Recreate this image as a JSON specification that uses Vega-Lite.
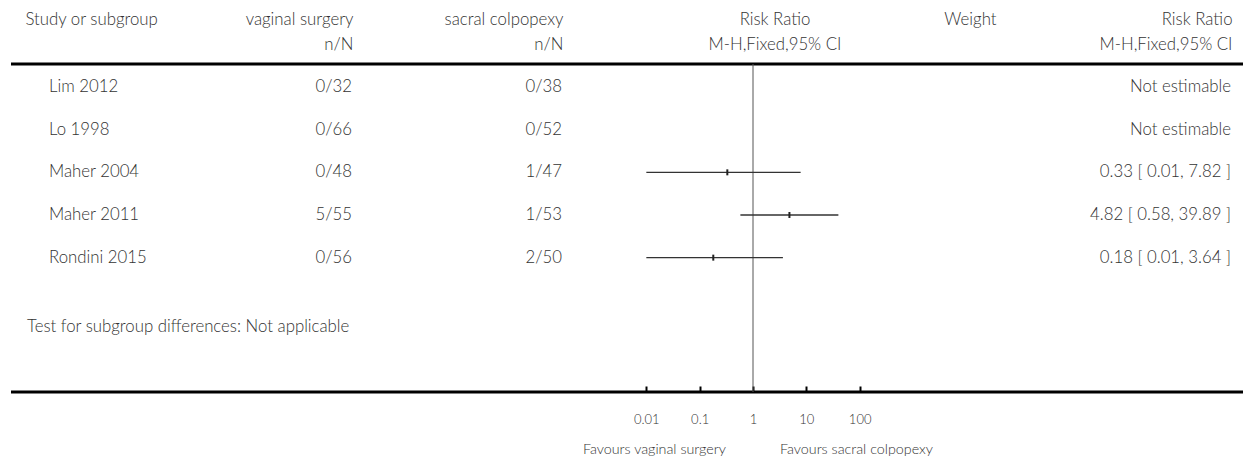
{
  "$schema": "https://vega.github.io/schema/vega-lite/v6.json",
  "padding": {"left": 9, "top": 11, "right": 0, "bottom": 0},
  "spacing": 0,
  "bounds": "flush",
  "config": {
    "view": {"stroke": null},
    "text": {"font": "Lato", "fontSize": 16.8, "fontWeight": 300, "color": "#333"},
    "title": {"font": "Lato", "fontSize": 16.8, "fontWeight": 300, "color": "#333", "lineHeight": 25, "offset": 9, "baseline": "bottom"},
    "axis": {"labelFont": "Lato", "labelFontSize": 13, "labelFontWeight": 300, "labelColor": "#333"}
  },
  "data": {"values": [
    {"study": "Lim 2012", "row": 1, "vs": "0/32", "sc": "0/38", "rr": null, "lo": null, "hi": null, "ci": "Not estimable"},
    {"study": "Lo 1998", "row": 2, "vs": "0/66", "sc": "0/52", "rr": null, "lo": null, "hi": null, "ci": "Not estimable"},
    {"study": "Maher 2004", "row": 3, "vs": "0/48", "sc": "1/47", "rr": 0.33, "lo": 0.01, "hi": 7.82, "ci": "0.33 [ 0.01, 7.82 ]"},
    {"study": "Maher 2011", "row": 4, "vs": "5/55", "sc": "1/53", "rr": 4.82, "lo": 0.58, "hi": 39.89, "ci": "4.82 [ 0.58, 39.89 ]"},
    {"study": "Rondini 2015", "row": 5, "vs": "0/56", "sc": "2/50", "rr": 0.18, "lo": 0.01, "hi": 3.64, "ci": "0.18 [ 0.01, 3.64 ]"}
  ]},
  "hconcat": [
    {
      "width": 189, "height": 328,
      "title": {"text": ["Study or subgroup", " "], "anchor": "start", "dx": 16},
      "layer": [
        {"transform": [{"aggregate": [{"op": "count", "as": "n"}]}], "mark": {"type": "rule", "strokeWidth": 3, "color": "black"},
         "encoding": {"y": {"datum": 0.46, "type": "quantitative", "scale": {"domain": [0.46, 8.15], "reverse": true, "nice": false, "zero": false}, "axis": null}}},
        {"transform": [{"aggregate": [{"op": "count", "as": "n"}]}], "mark": {"type": "rule", "strokeWidth": 3, "color": "black"},
         "encoding": {"y": {"datum": 8.15, "type": "quantitative", "axis": null}}},
        {"mark": {"type": "text", "align": "left", "dx": 38},
         "encoding": {"x": {"datum": 0, "type": "quantitative", "scale": {"domain": [0, 1]}, "axis": null},
                      "y": {"field": "row", "type": "quantitative", "axis": null}, "text": {"field": "study"}}},
        {"data": {"values": [{"note": "Test for subgroup differences: Not applicable"}]},
         "mark": {"type": "text", "align": "left", "dx": 16},
         "encoding": {"x": {"datum": 0, "type": "quantitative", "axis": null},
                      "y": {"datum": 6.62, "type": "quantitative", "axis": null}, "text": {"field": "note"}}}
      ]
    },
    {
      "width": 152, "height": 328,
      "title": {"text": ["vaginal surgery", "n/N"], "anchor": "end"},
      "layer": [
        {"transform": [{"aggregate": [{"op": "count", "as": "n"}]}], "mark": {"type": "rule", "strokeWidth": 3, "color": "black"},
         "encoding": {"y": {"datum": 0.46, "type": "quantitative", "scale": {"domain": [0.46, 8.15], "reverse": true, "nice": false, "zero": false}, "axis": null}}},
        {"transform": [{"aggregate": [{"op": "count", "as": "n"}]}], "mark": {"type": "rule", "strokeWidth": 3, "color": "black"},
         "encoding": {"y": {"datum": 8.15, "type": "quantitative", "axis": null}}},
        {"mark": {"type": "text", "align": "right"},
         "encoding": {"x": {"datum": 1, "type": "quantitative", "scale": {"domain": [0, 1]}, "axis": null},
                      "y": {"field": "row", "type": "quantitative", "axis": null}, "text": {"field": "vs"}}}
      ]
    },
    {
      "width": 241, "height": 328,
      "title": {"text": ["sacral colpopexy", "n/N"], "anchor": "end", "dx": -31},
      "layer": [
        {"transform": [{"aggregate": [{"op": "count", "as": "n"}]}], "mark": {"type": "rule", "strokeWidth": 3, "color": "black"},
         "encoding": {"y": {"datum": 0.46, "type": "quantitative", "scale": {"domain": [0.46, 8.15], "reverse": true, "nice": false, "zero": false}, "axis": null}}},
        {"transform": [{"aggregate": [{"op": "count", "as": "n"}]}], "mark": {"type": "rule", "strokeWidth": 3, "color": "black"},
         "encoding": {"y": {"datum": 8.15, "type": "quantitative", "axis": null}}},
        {"mark": {"type": "text", "align": "right", "dx": -31},
         "encoding": {"x": {"datum": 1, "type": "quantitative", "scale": {"domain": [0, 1]}, "axis": null},
                      "y": {"field": "row", "type": "quantitative", "axis": null}, "text": {"field": "sc"}}}
      ]
    },
    {
      "width": 320, "height": 328,
      "title": {"text": ["Risk Ratio", "M-H,Fixed,95% CI"], "anchor": "middle", "dx": 22},
      "layer": [
        {"transform": [{"aggregate": [{"op": "count", "as": "n"}]}], "mark": {"type": "rule", "strokeWidth": 3, "color": "black"},
         "encoding": {"y": {"datum": 0.46, "type": "quantitative", "scale": {"domain": [0.46, 8.15], "reverse": true, "nice": false, "zero": false}, "axis": null}}},
        {"transform": [{"aggregate": [{"op": "count", "as": "n"}]}], "mark": {"type": "rule", "strokeWidth": 3, "color": "black"},
         "encoding": {"y": {"datum": 8.15, "type": "quantitative", "axis": null}}},
        {"data": {"values": [{"null_effect": 1}]},
         "mark": {"type": "rule", "strokeWidth": 1, "color": "#555"},
         "encoding": {
           "x": {"field": "null_effect", "type": "quantitative",
                 "scale": {"type": "log", "domain": [0.001, 1000], "nice": false},
                 "axis": {"values": [0.01, 0.1, 1, 10, 100], "format": "~g", "domain": false, "grid": false, "title": null,
                          "tickSize": -6, "tickWidth": 2, "tickColor": "black", "labelPadding": 27}},
           "y": {"datum": 0.46, "type": "quantitative", "axis": null},
           "y2": {"datum": 8.15}}},
        {"transform": [{"filter": "datum.rr != null"}],
         "mark": {"type": "rule", "strokeWidth": 1.4, "color": "#333"},
         "encoding": {"x": {"field": "lo", "type": "quantitative"}, "x2": {"field": "hi"},
                      "y": {"field": "row", "type": "quantitative", "axis": null}}},
        {"transform": [{"filter": "datum.rr != null"}],
         "mark": {"type": "tick", "orient": "vertical", "size": 6, "thickness": 2, "color": "#222", "opacity": 1},
         "encoding": {"x": {"field": "rr", "type": "quantitative"},
                      "y": {"field": "row", "type": "quantitative", "axis": null}}},
        {"data": {"values": [{"label": "Favours vaginal surgery"}]},
         "mark": {"type": "text", "align": "right", "dx": -27, "dy": 58, "fontSize": 14.3},
         "encoding": {"x": {"datum": 1, "type": "quantitative"}, "y": {"datum": 8.15, "type": "quantitative", "axis": null}, "text": {"field": "label"}}},
        {"data": {"values": [{"label": "Favours sacral colpopexy"}]},
         "mark": {"type": "text", "align": "left", "dx": 27, "dy": 58, "fontSize": 14.3},
         "encoding": {"x": {"datum": 1, "type": "quantitative"}, "y": {"datum": 8.15, "type": "quantitative", "axis": null}, "text": {"field": "label"}}}
      ]
    },
    {
      "width": 82, "height": 328,
      "title": {"text": ["Weight", " "], "anchor": "end"},
      "layer": [
        {"transform": [{"aggregate": [{"op": "count", "as": "n"}]}], "mark": {"type": "rule", "strokeWidth": 3, "color": "black"},
         "encoding": {"y": {"datum": 0.46, "type": "quantitative", "scale": {"domain": [0.46, 8.15], "reverse": true, "nice": false, "zero": false}, "axis": null}}},
        {"transform": [{"aggregate": [{"op": "count", "as": "n"}]}], "mark": {"type": "rule", "strokeWidth": 3, "color": "black"},
         "encoding": {"y": {"datum": 8.15, "type": "quantitative", "axis": null}}}
      ]
    },
    {
      "width": 250, "height": 328,
      "title": {"text": ["Risk Ratio", "M-H,Fixed,95% CI"], "anchor": "end", "dx": -14},
      "layer": [
        {"transform": [{"aggregate": [{"op": "count", "as": "n"}]}], "mark": {"type": "rule", "strokeWidth": 3, "color": "black"},
         "encoding": {"y": {"datum": 0.46, "type": "quantitative", "scale": {"domain": [0.46, 8.15], "reverse": true, "nice": false, "zero": false}, "axis": null}}},
        {"transform": [{"aggregate": [{"op": "count", "as": "n"}]}], "mark": {"type": "rule", "strokeWidth": 3, "color": "black"},
         "encoding": {"y": {"datum": 8.15, "type": "quantitative", "axis": null}}},
        {"mark": {"type": "text", "align": "right", "dx": -14},
         "encoding": {"x": {"datum": 1, "type": "quantitative", "scale": {"domain": [0, 1]}, "axis": null},
                      "y": {"field": "row", "type": "quantitative", "axis": null}, "text": {"field": "ci"}}}
      ]
    }
  ]
}
